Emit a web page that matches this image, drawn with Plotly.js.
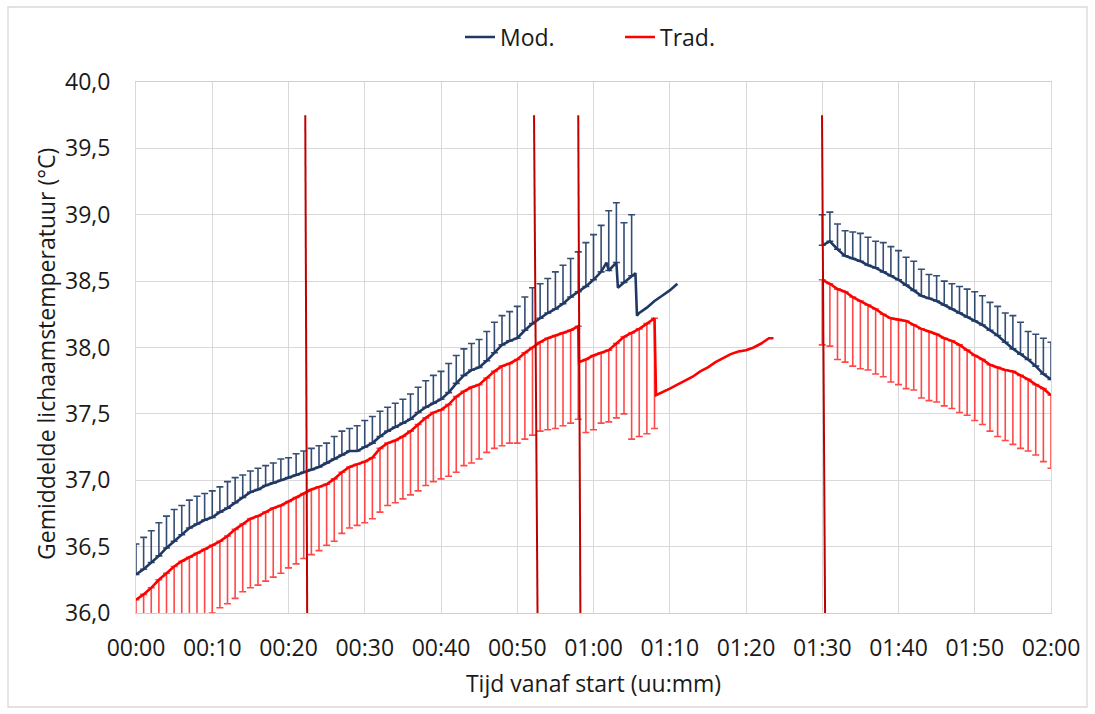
<!DOCTYPE html>
<html>
<head>
<meta charset="utf-8">
<script src="https://cdn.plot.ly/plotly-3.0.1.min.js"></script>
<style>
  html, body { margin: 0; padding: 0; background: #ffffff; }
  #chart { width: 1095px; height: 714px; }
</style>
</head>
<body>
<div id="chart"></div>
<script>
// ---------- DATA (minutes since start, °C) ----------
const xTickVals = [0, 10, 20, 30, 40, 50, 60, 70, 80, 90, 100, 110, 120];
const xTickText = ["00:00", "00:10", "00:20", "00:30", "00:40", "00:50", "01:00",
                   "01:10", "01:20", "01:30", "01:40", "01:50", "02:00"];

// Mod. mean line, first segment
const modT1 = [0,1,2,3,4,5,6,7,8,9,10,11,12,13,14,15,16,17,18,19,20,21,22,23,24,25,26,27,28,29,
  30,31,32,33,34,35,36,37,38,39,40,41,42,43,44,45,46,47,48,49,50,51,52,53,54,55,56,57,58,59,
  60,61,61.7,62,63,63.2,64,65,65.5,65.7,66,67,68,69,70,71];
const modY1 = [36.29,36.33,36.38,36.43,36.49,36.54,36.59,36.64,36.67,36.70,
  36.72,36.76,36.79,36.83,36.87,36.91,36.93,36.96,36.98,37.00,
  37.02,37.04,37.06,37.08,37.10,37.13,37.16,37.19,37.22,37.22,
  37.25,37.28,37.33,37.37,37.40,37.43,37.46,37.51,37.55,37.58,
  37.61,37.66,37.73,37.79,37.83,37.85,37.90,37.96,38.02,38.05,
  38.07,38.13,38.18,38.22,38.26,38.29,38.33,38.38,38.42,38.46,
  38.51,38.57,38.64,38.58,38.64,38.45,38.49,38.54,38.56,38.24,
  38.26,38.30,38.35,38.39,38.43,38.48];
// Mod. mean line, second segment
const modT2 = [90,91,92,93,94,95,96,97,98,99,100,101,102,103,104,105,106,107,108,109,110,
  111,112,113,114,115,116,117,118,119,120];
const modY2 = [38.77,38.80,38.74,38.69,38.67,38.65,38.62,38.60,38.57,38.54,38.51,
  38.47,38.43,38.39,38.37,38.35,38.32,38.29,38.26,38.23,38.20,
  38.17,38.13,38.09,38.04,37.99,37.95,37.91,37.86,37.80,37.76];
// Mod. upper ends of the error bars
const modBarT1 = [0,1,2,3,4,5,6,7,8,9,10,11,12,13,14,15,16,17,18,19,20,21,22,23,24,25,26,27,28,29,
  30,31,32,33,34,35,36,37,38,39,40,41,42,43,44,45,46,47,48,49,50,51,52,53,54,55,56,57,58,59,
  60,61,62,63,64,65];
const modTop1 = [36.52,36.57,36.62,36.68,36.73,36.78,36.81,36.85,36.88,36.90,
  36.92,36.95,36.99,37.02,37.04,37.07,37.09,37.11,37.13,37.16,
  37.17,37.20,37.22,37.24,37.26,37.28,37.33,37.37,37.39,37.41,
  37.45,37.48,37.52,37.55,37.58,37.61,37.65,37.70,37.75,37.79,
  37.82,37.88,37.94,37.99,38.03,38.06,38.12,38.19,38.24,38.27,
  38.31,38.38,38.45,38.48,38.52,38.57,38.62,38.67,38.72,38.79,
  38.85,38.92,39.03,39.09,38.94,39.00];
const modBarT2 = modT2;
const modTop2 = [39.00,39.02,38.93,38.88,38.87,38.86,38.83,38.80,38.79,38.76,38.73,
  38.68,38.65,38.59,38.55,38.54,38.50,38.48,38.46,38.44,38.42,
  38.39,38.34,38.31,38.26,38.24,38.19,38.12,38.10,38.07,38.04];

// Trad. mean line, first segment
const tradT1 = [0,1,2,3,4,5,6,7,8,9,10,11,12,13,14,15,16,17,18,19,20,21,22,23,24,25,26,27,28,29,
  30,31,32,33,34,35,36,37,38,39,40,41,42,43,44,45,46,47,48,49,50,51,52,53,54,55,56,57,58,58.1,
  59,60,61,62,63,64,65,66,67,68,68.2,69,70,71,72,73,74,75,76,77,78,79,80,81,82,83,83.6];
const tradY1 = [36.10,36.14,36.19,36.25,36.30,36.35,36.39,36.42,36.45,36.48,
  36.51,36.54,36.58,36.63,36.67,36.71,36.73,36.76,36.79,36.81,
  36.84,36.87,36.90,36.93,36.95,36.97,37.01,37.06,37.10,37.12,
  37.14,37.17,37.24,37.28,37.30,37.33,37.37,37.42,37.47,37.51,
  37.53,37.57,37.63,37.67,37.70,37.72,37.77,37.82,37.86,37.88,
  37.91,37.96,38.00,38.04,38.07,38.09,38.11,38.13,38.16,37.89,
  37.91,37.94,37.96,37.98,38.03,38.08,38.11,38.14,38.18,38.22,37.64,
  37.66,37.69,37.72,37.75,37.78,37.82,37.85,37.89,37.92,37.95,37.97,37.98,38.00,38.03,38.07,38.07];
// Trad. mean line, second segment
const tradT2 = [90,91,92,93,94,95,96,97,98,99,100,101,102,103,104,105,106,107,108,109,110,
  111,112,113,114,115,116,117,118,119,120];
const tradY2 = [38.51,38.48,38.44,38.42,38.38,38.35,38.32,38.29,38.25,38.22,38.21,
  38.20,38.17,38.14,38.12,38.10,38.07,38.05,38.02,37.98,37.94,
  37.91,37.87,37.85,37.83,37.82,37.79,37.76,37.72,37.69,37.64];
// Trad. lower ends of the error bars
const tradBarT1 = [0,1,2,3,4,5,6,7,8,9,10,11,12,13,14,15,16,17,18,19,20,21,22,23,24,25,26,27,28,29,
  30,31,32,33,34,35,36,37,38,39,40,41,42,43,44,45,46,47,48,49,50,51,52,53,54,55,56,57,58,59,
  60,61,62,63,64,65,66,67,68];
const tradBot1 = [35.58,35.62,35.67,35.72,35.78,35.83,35.87,35.90,35.93,35.96,
  36.00,36.04,36.07,36.11,36.16,36.19,36.21,36.24,36.27,36.30,
  36.34,36.37,36.41,36.44,36.47,36.51,36.54,36.60,36.64,36.66,
  36.68,36.71,36.76,36.81,36.83,36.86,36.89,36.92,36.96,36.99,
  37.01,37.03,37.06,37.11,37.13,37.16,37.21,37.24,37.26,37.28,
  37.28,37.31,37.34,37.37,37.38,37.39,37.41,37.43,37.46,37.36,
  37.38,37.43,37.44,37.47,37.50,37.31,37.33,37.35,37.39];
const tradBarT2 = tradT2;
const tradBot2 = [38.02,38.01,37.91,37.89,37.86,37.84,37.83,37.80,37.78,37.74,37.72,
  37.69,37.68,37.62,37.60,37.59,37.56,37.54,37.51,37.49,37.45,
  37.42,37.37,37.33,37.30,37.27,37.24,37.22,37.19,37.14,37.09];

// Dark-red vertical spikes (start and end time of each stroke)
const spikeTopT = [22.2, 52.2, 58.0, 89.97];
const spikeBotT = [22.45, 52.66, 58.28, 90.37];
const spikeHigh = 39.75;
const spikeLow = 36.0;

// ---------- BUILD ----------
const NAVY = '#1F3864';
const RED = '#FF0000';

function joinSeg(t1, y1, t2, y2) {
  const gapT = (t1[t1.length - 1] + t2[0]) / 2;
  return { x: t1.concat([gapT], t2), y: y1.concat([null], y2) };
}
function baseAt(tArr, yArr, t) {
  const i = tArr.indexOf(t);
  return yArr[i];
}
function barTrace(barT, ends, lineT, lineY, color, up) {
  const base = barT.map(t => baseAt(lineT, lineY, t));
  const len = ends.map((e, i) => up ? e - base[i] : base[i] - e);
  const err = { type: 'data', symmetric: false, color: color, thickness: 1.6, width: 3.5 };
  if (up) { err.array = len; err.arrayminus = len.map(() => NaN); }
  else { err.arrayminus = len; err.array = len.map(() => NaN); }
  return {
    x: barT, y: base, type: 'scatter', mode: 'markers',
    marker: { size: 1, opacity: 0 }, error_y: err,
    showlegend: false, hoverinfo: 'skip'
  };
}

const modLine = joinSeg(modT1, modY1, modT2, modY2);
const tradLine = joinSeg(tradT1, tradY1, tradT2, tradY2);

const spikeX = [], spikeY = [];
spikeTopT.forEach((t, i) => {
  spikeX.push(t, spikeBotT[i], null);
  spikeY.push(spikeHigh, spikeLow, null);
});

const traces = [
  barTrace(tradBarT1, tradBot1, tradT1, tradY1, 'rgba(255,40,40,0.85)', false),
  barTrace(tradBarT2, tradBot2, tradT2, tradY2, 'rgba(255,40,40,0.85)', false),
  barTrace(modBarT1, modTop1, modT1, modY1, 'rgba(31,56,100,0.9)', true),
  barTrace(modBarT2, modTop2, modT2, modY2, 'rgba(31,56,100,0.9)', true),
  { x: tradLine.x, y: tradLine.y, type: 'scatter', mode: 'lines', name: 'Trad.',
    line: { color: RED, width: 2.6 }, connectgaps: false, legendrank: 2 },
  { x: modLine.x, y: modLine.y, type: 'scatter', mode: 'lines', name: 'Mod.',
    line: { color: NAVY, width: 2.6 }, connectgaps: false, legendrank: 1 },
  { x: spikeX, y: spikeY, type: 'scatter', mode: 'lines', showlegend: false,
    line: { color: '#C00000', width: 2 }, hoverinfo: 'skip' }
];

const FONT = 'Open Sans, Liberation Sans, sans-serif';
const TXT = '#1a1a1a';
const L = 136, R = 1051, T = 82, B = 613;
const PW = R - L, PH = B - T;

const layout = {
  width: 1095, height: 714,
  margin: { l: L, r: 1095 - R, t: T, b: 714 - B, pad: 0 },
  paper_bgcolor: '#ffffff', plot_bgcolor: '#ffffff',
  separators: ', ',
  font: { family: FONT, size: 23, color: TXT },
  showlegend: true,
  legend: {
    orientation: 'h', x: (460 - L) / PW, xanchor: 'left',
    y: 1 + (T - 37) / PH, yanchor: 'middle',
    font: { family: FONT, size: 23, color: TXT },
    entrywidth: 115, entrywidthmode: 'pixels',
    traceorder: 'normal', bgcolor: 'rgba(0,0,0,0)'
  },
  xaxis: {
    range: [0, 120], tickmode: 'array', tickvals: xTickVals, ticktext: xTickText,
    showgrid: true, gridcolor: '#d9d9d9', gridwidth: 1,
    zeroline: false, showline: true, linecolor: '#d0d0d0', linewidth: 1, mirror: true,
    ticks: '', ticklabelstandoff: 14,
    tickfont: { family: FONT, size: 23, color: TXT },
    title: { text: 'Tijd vanaf start (uu:mm)', font: { family: FONT, size: 23, color: TXT }, standoff: 14 },
    fixedrange: true
  },
  yaxis: {
    range: [36, 40], dtick: 0.5, tick0: 36, tickformat: '.1f',
    showgrid: true, gridcolor: '#d9d9d9', gridwidth: 1,
    zeroline: false, showline: true, linecolor: '#d9d9d9', linewidth: 1, mirror: true,
    ticks: '', ticklabelstandoff: 20,
    tickfont: { family: FONT, size: 23, color: TXT },
    fixedrange: true
  },
  annotations: [{
    text: 'Gemiddelde lichaamstemperatuur (°C)', textangle: -90,
    xref: 'paper', yref: 'paper', x: (46 - L) / PW, y: (B - 354) / PH,
    xanchor: 'center', yanchor: 'middle', showarrow: false,
    font: { family: FONT, size: 23, color: TXT }
  }],
  shapes: [{
    type: 'rect', xref: 'paper', yref: 'paper', layer: 'below',
    x0: (8 - L) / PW, x1: (1087 - L) / PW,
    y0: (B - 707) / PH, y1: (B - 7) / PH,
    line: { color: '#d9d9d9', width: 1.3 }, fillcolor: 'rgba(0,0,0,0)'
  }]
};

Plotly.newPlot('chart', traces, layout, { displayModeBar: false, staticPlot: true });
</script>
</body>
</html>
